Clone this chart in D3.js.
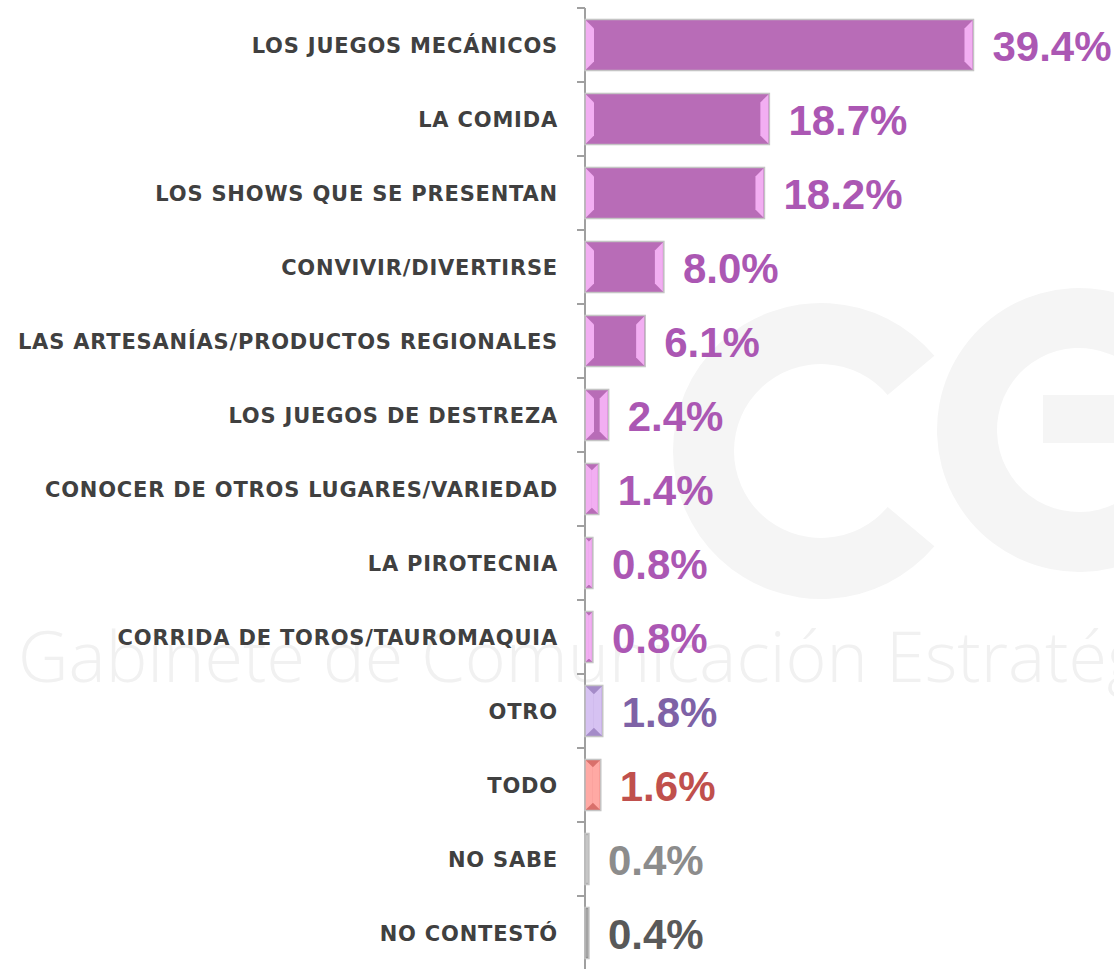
<!DOCTYPE html>
<html>
<head>
<meta charset="utf-8">
<script src="https://cdn.jsdelivr.net/npm/d3@7"></script>
<style>
    body { margin: 0; background: #fff; }
    .cat { font-family: "DejaVu Sans", Verdana, sans-serif; font-weight: bold; font-size: 21px; letter-spacing: 0.8px; fill: #404040; }
    .val { font-family: "Liberation Sans", Arial, sans-serif; font-weight: bold; font-size: 42px; }
    .wm { font-family: "Open Sans", sans-serif; font-weight: 300; font-size: 70px; fill: #f1f1f1; }
</style>
</head>
<body>
<svg width="1114" height="969"></svg>

<script>
    // datos
    const categories = [
        "LOS JUEGOS MECÁNICOS",
        "LA COMIDA",
        "LOS SHOWS QUE SE PRESENTAN",
        "CONVIVIR/DIVERTIRSE",
        "LAS ARTESANÍAS/PRODUCTOS REGIONALES",
        "LOS JUEGOS DE DESTREZA",
        "CONOCER DE OTROS LUGARES/VARIEDAD",
        "LA PIROTECNIA",
        "CORRIDA DE TOROS/TAUROMAQUIA",
        "OTRO",
        "TODO",
        "NO SABE",
        "NO CONTESTÓ"
    ];
    const values = [39.4, 18.7, 18.2, 8.0, 6.1, 2.4, 1.4, 0.8, 0.8, 1.8, 1.6, 0.4, 0.4];
    const valueLabels = ["39.4%", "18.7%", "18.2%", "8.0%", "6.1%", "2.4%", "1.4%", "0.8%", "0.8%", "1.8%", "1.6%", "0.4%", "0.4%"];

    // colores: barra, bisel, etiqueta
    const purple = { bar: "#b86cb7", bevel: "#f2aef2", text: "#ab57b3" };
    const palette = [
        purple, purple, purple, purple, purple, purple, purple, purple, purple,
        { bar: "#a48bc8", bevel: "#d6c2f2", text: "#7e62a6" },
        { bar: "#d9706b", bevel: "#ffa9a4", text: "#c0504d" },
        { bar: "#a6a6a6", bevel: "#c8c8c8", text: "#8c8c8c" },
        { bar: "#808080", bevel: "#a6a6a6", text: "#595959" }
    ];

    const svg = d3.select("svg");

    // marca de agua (logo tenue)
    const wm = svg.append("g").attr("fill", "#f5f5f5");
    const deg = Math.PI / 180;
    wm.append("path")
        .attr("transform", "translate(821,451)")
        .attr("d", d3.arc().innerRadius(87).outerRadius(148)({ startAngle: 130 * deg, endAngle: 410 * deg }));
    wm.append("path")
        .attr("transform", "translate(1079,430)")
        .attr("d", d3.arc().innerRadius(82).outerRadius(142)({ startAngle: 90 * deg, endAngle: 395 * deg }));
    wm.append("rect")
        .attr("x", 1043).attr("y", 395)
        .attr("width", 80).attr("height", 48);
    wm.append("text")
        .attr("class", "wm")
        .attr("x", 18)
        .attr("y", 682)
        .text("Gabinete de Comunicación Estratégica");

    // escalas
    const x = d3.scaleLinear()
        .domain([0, 40])
        .range([585, 979.4]);

    const y = d3.scaleBand()
        .domain(categories)
        .range([8, 970])
        .paddingInner(0.31)
        .paddingOuter(0.155);

    // eje vertical con marcas entre categorías
    const axis = svg.append("g");
    axis.append("line")
        .attr("x1", x(0)).attr("x2", x(0))
        .attr("y1", 8).attr("y2", 969)
        .attr("stroke", "#a0a0a0").attr("stroke-width", 2);
    const step = y.step();
    axis.selectAll(".tick")
        .data(d3.range(categories.length + 1))
        .join("line")
        .attr("class", "tick")
        .attr("x1", x(0) - 8).attr("x2", x(0))
        .attr("y1", i => 8 + i * step)
        .attr("y2", i => 8 + i * step)
        .attr("stroke", "#a0a0a0").attr("stroke-width", 2);

    // barras
    const bars = svg.selectAll(".bar")
        .data(categories)
        .join("g")
        .attr("class", "bar");

    bars.append("rect")
        .attr("x", x(0))
        .attr("y", d => y(d))
        .attr("width", (d, i) => x(values[i]) - x(0))
        .attr("height", y.bandwidth())
        .attr("fill", (d, i) => palette[i].bar)
        .attr("stroke", "#c4c4c4")
        .attr("stroke-width", 1.5);

    // biseles a los extremos
    bars.each(function (d, i) {
        const x0 = x(0) + 1, x1 = x(values[i]) - 1;
        const y0 = y(d) + 1, y1 = y(d) + y.bandwidth() - 1;
        const b = Math.min(8, (x1 - x0) / 2);
        const g = d3.select(this);
        g.append("polygon")
            .attr("points", [[x0, y0], [x0 + b, y0 + b], [x0 + b, y1 - b], [x0, y1]].join(" "))
            .attr("fill", palette[i].bevel);
        g.append("polygon")
            .attr("points", [[x1, y0], [x1 - b, y0 + b], [x1 - b, y1 - b], [x1, y1]].join(" "))
            .attr("fill", palette[i].bevel);
    });

    // etiquetas de categoría
    svg.selectAll(".cat")
        .data(categories)
        .join("text")
        .attr("class", "cat")
        .attr("x", 558)
        .attr("y", d => y(d) + y.bandwidth() / 2)
        .attr("dy", "0.36em")
        .attr("text-anchor", "end")
        .text(d => d);

    // etiquetas de valor
    svg.selectAll(".val")
        .data(categories)
        .join("text")
        .attr("class", "val")
        .attr("x", (d, i) => x(values[i]) + 19)
        .attr("y", d => y(d) + y.bandwidth() / 2)
        .attr("dy", "0.37em")
        .attr("fill", (d, i) => palette[i].text)
        .text((d, i) => valueLabels[i]);
</script>
</body>
</html>
